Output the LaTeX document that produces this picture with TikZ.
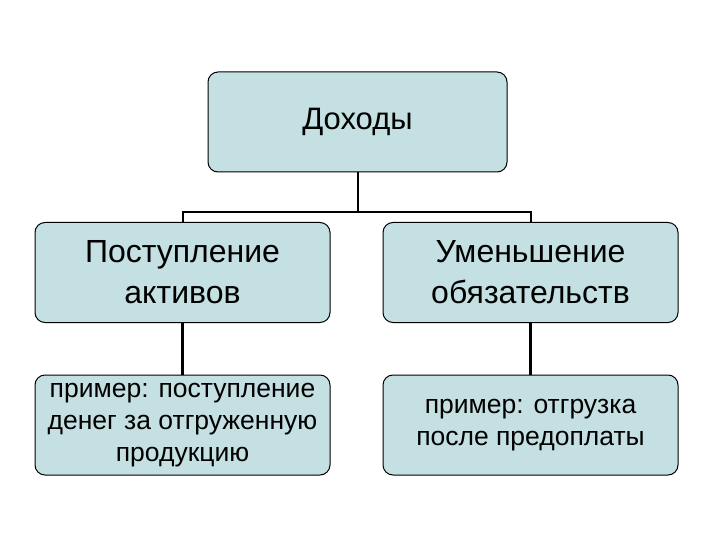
\documentclass[tikz,border=0pt]{standalone}
\usepackage{fontspec}
\setmainfont{Liberation Sans}
\definecolor{boxfill}{RGB}{196,224,226}
\tikzset{
  bx/.style={draw=black, line width=1pt, fill=boxfill, rounded corners=10pt, minimum width=295pt, minimum height=100pt, align=center, inner sep=2pt},
  ln/.style={line width=2pt, draw=black},
  lnt/.style={line width=3pt, draw=black}
}
\begin{document}
\begin{tikzpicture}[x=1pt,y=-1pt]
\useasboundingbox (0,0) rectangle (720,540);
\node[bx, minimum width=299pt, font=\fontsize{31}{36}\selectfont] (top) at (357.5,122) {Доходы};
\node[bx, font=\fontsize{32}{41}\selectfont] (l1) at (182.5,272.5) {Поступление\\активов};
\node[bx, font=\fontsize{32}{41}\selectfont] (r1) at (530.5,272.5) {Уменьшение\\обязательств};
\node[bx, font=\fontsize{26.5}{32}\selectfont] (l2) at (182.5,425) {пример: поступление\\денег за отгруженную\\продукцию};
\node[bx, font=\fontsize{26.5}{32}\selectfont] (r2) at (530.5,425) {пример: отгрузка\\после предоплаты};
\coordinate (j) at (357.5,212);
\draw[ln] (top.south) -- (j);
\draw[ln] (l1.north) |- (j) -| (r1.north);
\draw[lnt] (l1.south) -- (l2.north);
\draw[lnt] (r1.south) -- (r2.north);
\end{tikzpicture}
\end{document}
